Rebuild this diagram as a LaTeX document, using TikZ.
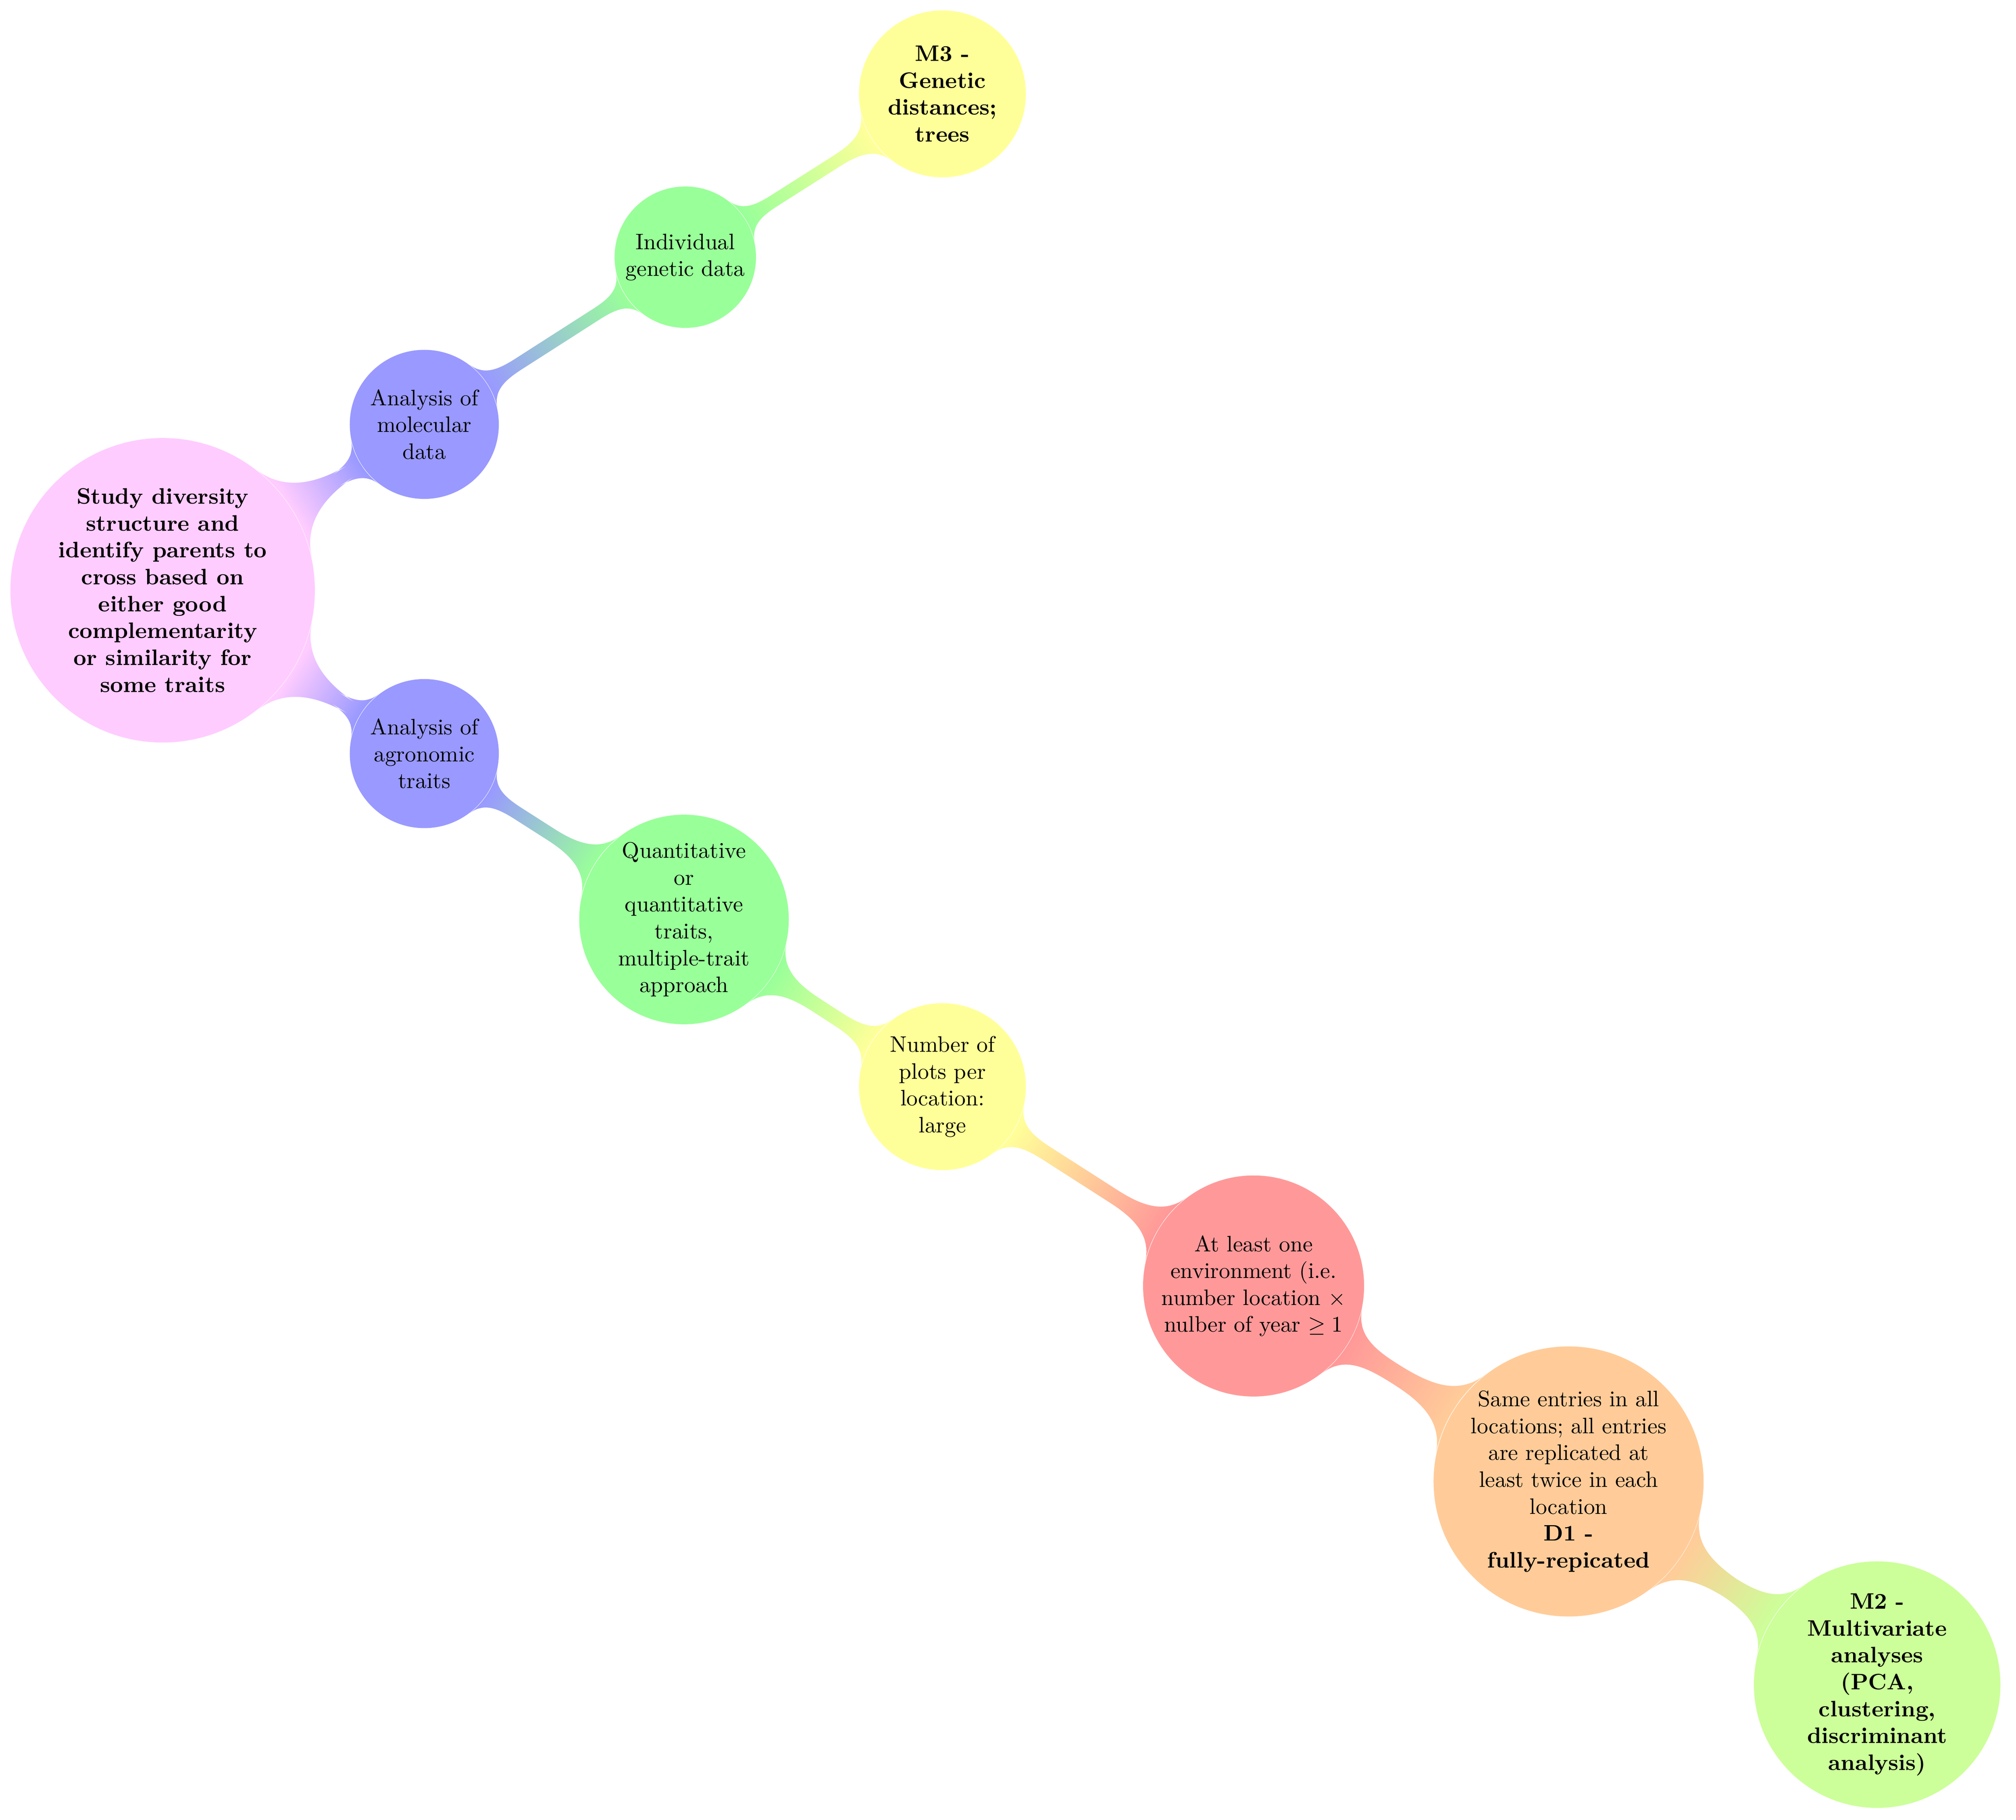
\documentclass[tikz,border=0pt]{standalone}
\usetikzlibrary{mindmap}
\pgfdeclarelayer{background}
\pgfsetlayers{background,main}
\definecolor{cRoot}{rgb}{1,0.8,1}
\definecolor{cBlue}{rgb}{0.6,0.6,1}
\definecolor{cGreen}{rgb}{0.6,1,0.6}
\definecolor{cYellow}{rgb}{1,1,0.6}
\definecolor{cRed}{rgb}{1,0.6,0.6}
\definecolor{cOrange}{rgb}{1,0.8,0.6}
\definecolor{cLime}{rgb}{0.8,1,0.6}
\begin{document}
\begin{tikzpicture}[x=0.02018cm,y=-0.02018cm,
  bubble/.style={circle, inner sep=0pt, draw=none},
  btext/.style={align=center, inner sep=0pt, font=\normalsize},
  bar/.style={circle connection bar switch color=#1}]
\useasboundingbox (0,0) rectangle (1568,1415);
% bubbles
\node[bubble, fill=cRoot, minimum size=4.78cm] (root) at (126.5,459) {};
\node[bubble, fill=cBlue, minimum size=2.34cm] (mol) at (330,330) {};
\node[bubble, fill=cBlue, minimum size=2.34cm] (agr) at (330,586) {};
\node[bubble, fill=cGreen, minimum size=2.22cm] (ind) at (533,200) {};
\node[bubble, fill=cYellow, minimum size=2.62cm] (m3) at (733,73) {};
\node[bubble, fill=cGreen, minimum size=3.29cm] (quant) at (532,715) {};
\node[bubble, fill=cYellow, minimum size=2.62cm] (plots) at (733,845) {};
\node[bubble, fill=cRed, minimum size=3.47cm] (env) at (975,1000) {};
\node[bubble, fill=cOrange, minimum size=4.24cm] (same) at (1220,1152) {};
\node[bubble, fill=cLime, minimum size=3.87cm] (m2) at (1460,1310) {};
% texts
\node[btext, font=\bfseries] (rootT) at (root) {Study diversity\\structure and\\identify parents to\\cross based on\\either good\\complementarity\\or similarity for\\some traits};
\node[btext] (molT) at (mol) {Analysis of\\molecular\\data};
\node[btext] (agrT) at (agr) {Analysis of\\agronomic\\traits};
\node[btext] (indT) at (ind) {Individual\\genetic data};
\node[btext, font=\bfseries] (m3T) at (m3) {M3 -\\Genetic\\distances;\\trees};
\node[btext] (quantT) at (quant) {Quantitative\\or\\quantitative\\traits,\\multiple-trait\\approach};
\node[btext] (plotsT) at (plots) {Number of\\plots per\\location:\\large};
\node[btext] (envT) at (env) {At least one\\environment (i.e.\\number location $\times$\\nulber of year $\geq 1$};
\node[btext] (sameT) at (same) {Same entries in all\\locations; all entries\\are replicated at\\least twice in each\\location\\\textbf{D1 -}\\\textbf{fully-repicated}};
\node[btext, font=\bfseries] (m2T) at (m2) {M2 -\\Multivariate\\analyses\\(PCA,\\clustering,\\discriminant\\analysis)};
% connection bars
\begin{pgfonlayer}{background}
\path (root) to[bar={from (cRoot) to (cBlue)}] (mol);
\path (root) to[bar={from (cRoot) to (cBlue)}] (agr);
\path (mol) to[bar={from (cBlue) to (cGreen)}] (ind);
\path (ind) to[bar={from (cGreen) to (cYellow)}] (m3);
\path (agr) to[bar={from (cBlue) to (cGreen)}] (quant);
\path (quant) to[bar={from (cGreen) to (cYellow)}] (plots);
\path (plots) to[bar={from (cYellow) to (cRed)}] (env);
\path (env) to[bar={from (cRed) to (cOrange)}] (same);
\path (same) to[bar={from (cOrange) to (cLime)}] (m2);
\end{pgfonlayer}
\end{tikzpicture}
\end{document}
